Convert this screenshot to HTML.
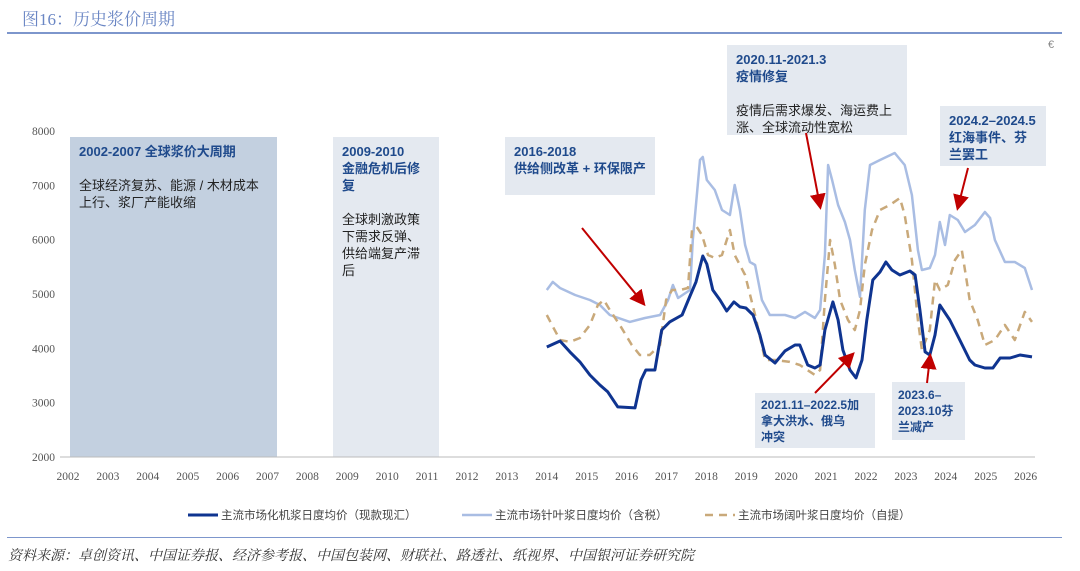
<!DOCTYPE html>
<html><head><meta charset="utf-8">
<style>
body{margin:0;width:1080px;height:571px;background:#fff;overflow:hidden;font-family:"Liberation Sans","Noto Sans CJK SC",sans-serif;position:relative}
.t{position:absolute;white-space:nowrap}
.box{position:absolute;box-sizing:border-box;padding:6px 9px;font-size:13px;line-height:17px;color:#222}
.box b{color:#1f4a8c;font-weight:700}
.sm{white-space:nowrap;font-size:12px;line-height:16px}
</style></head><body>
<div class="t" style="left:22px;top:5px;font-size:17px;color:#6a86c4;font-family:'Liberation Serif','Noto Serif CJK SC',serif">图16：历史浆价周期</div>
<div style="position:absolute;left:7px;top:32px;width:1055px;height:2px;background:#7d96cc"></div>
<div class="t" style="left:1048px;top:39px;font-size:11px;color:#888">€</div>

<div class="box" style="left:70px;top:137px;width:207px;height:320px;background:#c3d0e0"><b>2002-2007 全球浆价大周期</b><br><br>全球经济复苏、能源 / 木材成本上行、浆厂产能收缩</div>
<div class="box" style="left:333px;top:137px;width:106px;height:320px;background:#e4e9f0"><b>2009-2010<br>金融危机后修<br>复</b><br><br>全球刺激政策<br>下需求反弹、<br>供给端复产滞<br>后</div>
<div class="box" style="left:505px;top:137px;width:150px;height:58px;background:#e4e9f0"><b>2016-2018<br>供给侧改革 + 环保限产</b></div>
<div class="box" style="left:727px;top:45px;width:180px;height:90px;background:#e4e9f0"><b>2020.11-2021.3<br>疫情修复</b><br><br>疫情后需求爆发、海运费上<br>涨、全球流动性宽松</div>
<div class="box" style="left:940px;top:106px;width:106px;height:60px;background:#e4e9f0"><b>2024.2–2024.5<br>红海事件、芬<br>兰罢工</b></div>
<div class="box sm" style="left:755px;top:393px;width:120px;height:55px;background:#e4e9f0;padding:4px 6px"><b>2021.11–2022.5加<br>拿大洪水、俄乌<br>冲突</b></div>
<div class="box sm" style="left:892px;top:382px;width:73px;height:58px;background:#e4e9f0;padding:5px 6px"><b>2023.6–<br>2023.10芬<br>兰减产</b></div>

<svg id="chart" width="1080" height="571" style="position:absolute;left:0;top:0" xmlns="http://www.w3.org/2000/svg">
<defs><marker id="ah" markerWidth="8" markerHeight="8" refX="6" refY="4" orient="auto"><path d="M0,0 L8,4 L0,8 z" fill="#c00000"/></marker></defs>
<g id="axes"></g><g id="series"></g><g id="arrows"></g>
</svg>

<div class="t" style="left:8px;top:545px;font-size:14px;color:#333;font-style:italic;font-family:'Liberation Serif','Noto Serif CJK SC',serif">资料来源：卓创资讯、中国证券报、经济参考报、中国包装网、财联社、路透社、纸视界、中国银河证券研究院</div>
<div style="position:absolute;left:7px;top:537px;width:1055px;height:1px;background:#7d96cc"></div>

<script>
const years=[2002,2003,2004,2005,2006,2007,2008,2009,2010,2011,2012,2013,2014,2015,2016,2017,2018,2019,2020,2021,2022,2023,2024,2025,2026];
const yTicks=[2000,3000,4000,5000,6000,7000,8000];
const hwT=[2014.0,2014.33,2014.58,2014.83,2015.08,2015.33,2015.53,2015.78,2016.21,2016.36,2016.48,2016.71,2016.88,2017.08,2017.39,2017.59,2017.74,2017.91,2018.01,2018.16,2018.34,2018.51,2018.69,2018.84,2018.99,2019.17,2019.34,2019.47,2019.72,2019.97,2020.22,2020.34,2020.54,2020.72,2020.85,2020.97,2021.17,2021.30,2021.42,2021.60,2021.75,2021.90,2022.02,2022.17,2022.35,2022.50,2022.65,2022.85,2023.10,2023.23,2023.35,2023.48,2023.60,2023.73,2023.85,2024.10,2024.35,2024.60,2024.73,2024.98,2025.18,2025.36,2025.61,2025.86,2026.16];
const hwV=[4025,4136,3934,3750,3510,3326,3198,2922,2903,3418,3602,3602,4338,4486,4614,4964,5222,5700,5553,5074,4890,4688,4854,4762,4743,4614,4246,3878,3731,3952,4062,4062,3694,3639,3694,4338,4854,4522,3970,3602,3455,3786,4522,5258,5406,5590,5442,5350,5424,5350,4706,3934,3878,4246,4798,4522,4154,3786,3694,3639,3639,3823,3823,3878,3842];
const swT=[2014.0,2014.15,2014.33,2014.71,2015.08,2015.33,2015.58,2016.08,2016.46,2016.84,2017.04,2017.16,2017.29,2017.59,2017.66,2017.84,2017.91,2018.01,2018.21,2018.39,2018.59,2018.71,2018.84,2018.97,2019.09,2019.22,2019.39,2019.59,2019.97,2020.22,2020.47,2020.72,2020.85,2020.97,2021.05,2021.15,2021.30,2021.47,2021.60,2021.72,2021.85,2021.97,2022.10,2022.35,2022.72,2022.97,2023.15,2023.30,2023.40,2023.60,2023.73,2023.85,2023.98,2024.10,2024.30,2024.48,2024.73,2024.98,2025.11,2025.23,2025.48,2025.73,2025.98,2026.16];
const swV=[5074,5222,5111,4982,4890,4798,4614,4486,4559,4614,4890,5166,4927,5074,5994,7466,7522,7098,6914,6546,6454,7006,6546,5902,5590,5534,4890,4614,4614,4559,4670,4559,4706,5718,7374,7098,6638,6326,5994,5442,4946,6546,7374,7466,7595,7374,6822,5810,5442,5479,5718,6326,5902,6454,6362,6142,6270,6510,6399,5994,5590,5590,5479,5074];
const bwT=[2014.0,2014.13,2014.33,2014.58,2014.83,2015.08,2015.28,2015.43,2015.58,2015.83,2016.13,2016.33,2016.58,2016.84,2016.99,2017.14,2017.34,2017.54,2017.64,2017.76,2017.89,2018.04,2018.21,2018.39,2018.59,2018.71,2018.84,2018.97,2019.22,2019.47,2019.72,2020.09,2020.34,2020.72,2020.85,2020.97,2021.10,2021.22,2021.35,2021.55,2021.72,2021.85,2021.97,2022.15,2022.35,2022.60,2022.85,2022.97,2023.15,2023.30,2023.40,2023.60,2023.73,2023.85,2024.05,2024.23,2024.40,2024.60,2024.80,2024.98,2025.23,2025.48,2025.73,2025.98,2026.16];
const bwV=[4614,4430,4154,4118,4191,4430,4798,4890,4706,4430,4062,3878,3878,4062,4890,5074,5074,5111,6178,6234,6086,5718,5663,5718,6178,5718,5534,5350,4614,3786,3786,3750,3694,3510,3602,4890,5994,5534,4890,4522,4338,4706,5534,6178,6546,6638,6767,6454,5626,4522,3970,4338,5258,5074,5166,5626,5810,4890,4522,4062,4154,4430,4154,4670,4486];
const seriesNames=["主流市场化机浆日度均价（现款现汇）","主流市场针叶浆日度均价（含税）","主流市场阔叶浆日度均价（自提）"];

const NS="http://www.w3.org/2000/svg";
const X=y=>68+(y-2002)*39.9;
const Y=v=>457-(v-2000)*54.33/1000;
const ax=document.getElementById('axes'),se=document.getElementById('series'),ar=document.getElementById('arrows');
function mk(tag,attrs,parent){const e=document.createElementNS(NS,tag);for(const k in attrs)e.setAttribute(k,attrs[k]);parent.appendChild(e);return e;}
const base=mk('line',{x1:60,x2:1035,y1:Y(2000),y2:Y(2000),stroke:'#bbb','stroke-width':1},ax);


years.forEach(yr=>{const t=mk('text',{x:X(yr),y:480,'text-anchor':'middle','font-size':11.5,fill:'#555','font-family':'Liberation Serif,serif'},ax);t.textContent=yr;

});
yTicks.forEach(v=>{const t=mk('text',{x:55,y:Y(v)+4,'text-anchor':'end','font-size':11.5,fill:'#555','font-family':'Liberation Serif,serif'},ax);t.textContent=v;

});
function line(T,V,attrs,name){const d=T.map((t,i)=>(i?'L':'M')+X(t).toFixed(1)+','+Y(V[i]).toFixed(1)).join('');const p=mk('path',Object.assign({d:d,fill:'none','stroke-linejoin':'round'},attrs),se);

}
line(swT,swV,{stroke:'#a9bde3','stroke-width':2.5},'softwood-line');
line(bwT,bwV,{stroke:'#c9a97a','stroke-width':2.5,'stroke-dasharray':'8,6'},'hardwood-selfpickup-line');
line(hwT,hwV,{stroke:'#0f3490','stroke-width':3},'market-pulp-line');
const arrs=[[582,228,643,303],[806,133,820,206],[968,168,958,207],[815,393,852,355],[927,383,930,357]];
arrs.forEach(a=>{const l=mk('line',{x1:a[0],y1:a[1],x2:a[2],y2:a[3],stroke:'#c00000','stroke-width':2,'marker-end':'url(#ah)'},ar);

});
const leg=[{x:188,st:'#0f3490',w:3,da:''},{x:462,st:'#a9bde3',w:2.5,da:''},{x:705,st:'#c9a97a',w:2.5,da:'8,6'}];
leg.forEach((L,i)=>{const l=mk('line',{x1:L.x,x2:L.x+30,y1:515,y2:515,stroke:L.st,'stroke-width':L.w,'stroke-dasharray':L.da},se);


const t=mk('text',{x:L.x+33,y:519,'font-size':11.5,fill:'#444','font-family':'Liberation Sans,Noto Sans CJK SC,sans-serif'},se);t.textContent=seriesNames[i];

});
</script>
</body></html>
